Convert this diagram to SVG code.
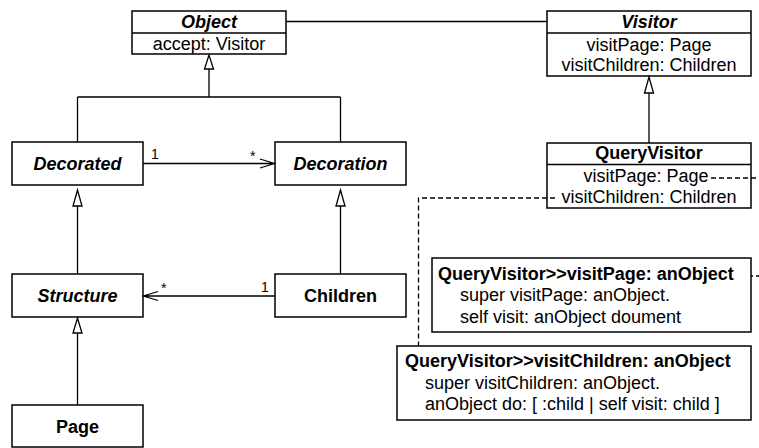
<svg xmlns="http://www.w3.org/2000/svg" width="759" height="448" viewBox="0 0 759 448">
  <style>
    text { font-family: "Liberation Sans", Arial, Helvetica, sans-serif; font-size: 18px; fill: #000; }
    .box { fill: #fff; stroke: #000; stroke-width: 1.5; }
    .sep { stroke: #000; stroke-width: 1.4; }
    .t { font-weight: bold; text-anchor: middle; }
    .ab { font-weight: bold; font-style: italic; text-anchor: middle; }
    .m { text-anchor: middle; }
    .lbl { font-size: 14px; }
    .line { fill: none; stroke: #000; stroke-width: 1.3; }
    .dash { fill: none; stroke: #000; stroke-width: 1.3; stroke-dasharray: 5 3; }
    .gen { fill: #fff; stroke: #000; stroke-width: 1.3; stroke-linejoin: miter; }
  </style>
  <rect width="759" height="448" fill="#fff"/>

  <g id="object">
    <rect class="box" x="132" y="11" width="154" height="43"/>
    <line class="sep" x1="132" y1="33" x2="286" y2="33"/>
    <text class="ab" x="209" y="27.5">Object</text>
    <text class="m" x="209" y="49.5">accept: Visitor</text>
  </g>

  <g id="visitor">
    <rect class="box" x="547" y="11" width="204" height="65"/>
    <line class="sep" x1="547" y1="33" x2="751" y2="33"/>
    <text class="ab" x="649" y="27.5">Visitor</text>
    <text class="m" x="649" y="50.5">visitPage: Page</text>
    <text class="m" x="649" y="71">visitChildren: Children</text>
  </g>

  <g id="decorated">
    <rect class="box" x="12" y="142" width="131" height="43"/>
    <text class="ab" x="77.5" y="170">Decorated</text>
  </g>

  <g id="decoration">
    <rect class="box" x="275" y="142" width="131" height="43"/>
    <text class="ab" x="340.5" y="170">Decoration</text>
  </g>

  <g id="structure">
    <rect class="box" x="12" y="274" width="131" height="43"/>
    <text class="ab" x="77.5" y="302">Structure</text>
  </g>

  <g id="children">
    <rect class="box" x="275" y="274" width="131" height="43"/>
    <text class="t" x="340.5" y="302">Children</text>
  </g>

  <g id="page">
    <rect class="box" x="12" y="405" width="131" height="42"/>
    <text class="t" x="77.5" y="433">Page</text>
  </g>

  <g id="query-visitor">
    <rect class="box" x="547" y="143" width="204" height="65"/>
    <line class="sep" x1="547" y1="164.5" x2="751" y2="164.5"/>
    <text class="t" x="649" y="158.5">QueryVisitor</text>
    <text class="m" x="646" y="182">visitPage: Page</text>
    <text class="m" x="649" y="203">visitChildren: Children</text>
  </g>

  <g id="note-visit-page">
    <rect class="box" x="432" y="258" width="319" height="74"/>
    <text x="438" y="280" font-weight="bold">QueryVisitor&gt;&gt;visitPage: anObject</text>
    <text x="460" y="301">super visitPage: anObject.</text>
    <text x="460" y="322.5">self visit: anObject doument</text>
  </g>

  <g id="note-visit-children">
    <rect class="box" x="397" y="346" width="354" height="74"/>
    <text x="405" y="367" font-weight="bold">QueryVisitor&gt;&gt;visitChildren: anObject</text>
    <text x="425" y="388.5">super visitChildren: anObject.</text>
    <text x="425" y="410">anObject do: [ :child | self visit: child ]</text>
  </g>

  <!-- connectors, drawn over the boxes so the note links show inside QueryVisitor -->
  <g id="connectors">
    <!-- Object associated with Visitor -->
    <path class="line" d="M286,21.5 H547"/>
    <!-- generalizations towards Object -->
    <path class="line" d="M209,69 V97 M77.5,97 H340.5 M77.5,97 V142 M340.5,97 V142"/>
    <polygon class="gen" points="209,55 204.5,69 213.5,69"/>
    <!-- QueryVisitor to Visitor -->
    <path class="line" d="M649,93 V143"/>
    <polygon class="gen" points="649,77 644.5,93 653.5,93"/>
    <!-- Structure to Decorated -->
    <path class="line" d="M77.5,206 V274"/>
    <polygon class="gen" points="77.5,190 73,206 82,206"/>
    <!-- Children to Decoration -->
    <path class="line" d="M340.5,206 V274"/>
    <polygon class="gen" points="340.5,190 336,206 345,206"/>
    <!-- Page to Structure -->
    <path class="line" d="M77.5,333 V405"/>
    <polygon class="gen" points="77.5,318 73,333 82,333"/>
    <!-- Decorated 1 -> * Decoration -->
    <path class="line" d="M143,163.5 H274.5 M260,159 L274.5,163.5 L260,168"/>
    <text class="lbl" x="151" y="159">1</text>
    <text class="lbl" x="250" y="161">*</text>
    <!-- Children 1 -> * Structure -->
    <path class="line" d="M275,296 H143.5 M158,291.5 L143.5,296 L158,300.5"/>
    <text class="lbl" x="261" y="292">1</text>
    <text class="lbl" x="161" y="293">*</text>
    <!-- method notes -->
    <path class="dash" d="M711,178 H763 V276 H751"/>
    <path class="dash" d="M555,198 H418.5 V346"/>
  </g>
</svg>
